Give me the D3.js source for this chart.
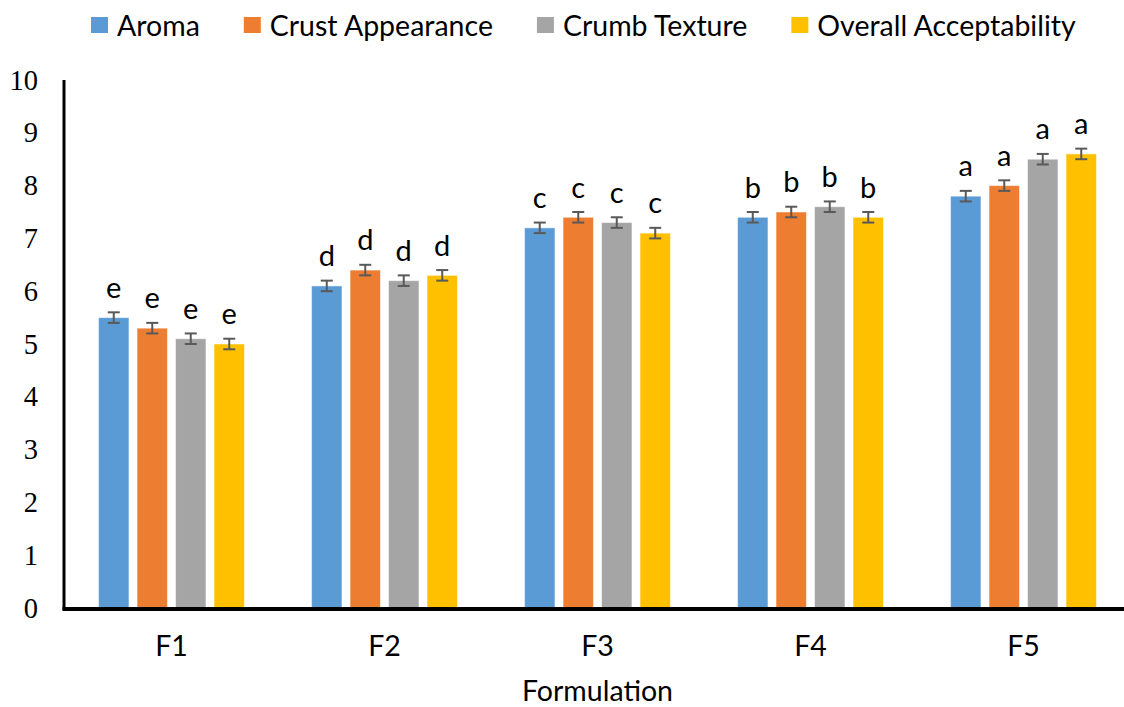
<!DOCTYPE html>
<html>
<head>
<meta charset="utf-8">
<script src="https://cdn.jsdelivr.net/npm/d3@7"></script>
<style>
  html, body { margin: 0; padding: 0; background: #fff; }
  svg { display: block; }
</style>
</head>
<body>
<svg id="chart" width="1124" height="707"></svg>
<script>
// Sensory scores of bread formulations
const formulations = ["F1", "F2", "F3", "F4", "F5"];
const attributes = ["Aroma", "Crust Appearance", "Crumb Texture", "Overall Acceptability"];
const aroma   = [5.5, 6.1, 7.2, 7.4, 7.8];
const crust   = [5.3, 6.4, 7.4, 7.5, 8.0];
const crumb   = [5.1, 6.2, 7.3, 7.6, 8.5];
const overall = [5.0, 6.3, 7.1, 7.4, 8.6];
const errAroma   = [0.1, 0.1, 0.1, 0.1, 0.1];
const errCrust   = [0.1, 0.1, 0.1, 0.1, 0.1];
const errCrumb   = [0.1, 0.1, 0.1, 0.1, 0.1];
const errOverall = [0.1, 0.1, 0.1, 0.1, 0.1];
const letters = ["e", "d", "c", "b", "a"];
const yTicks = [0, 1, 2, 3, 4, 5, 6, 7, 8, 9, 10];
const colors = ["#5B9BD5", "#ED7D31", "#A5A5A5", "#FFC000"];

const seriesValues = [aroma, crust, crumb, overall];
const seriesErrors = [errAroma, errCrust, errCrumb, errOverall];

const rows = [];
formulations.forEach((f, i) => {
  attributes.forEach((a, j) => {
    rows.push({ f, a, j, value: seriesValues[j][i], err: seriesErrors[j][i], letter: letters[i] });
  });
});

const svg = d3.select("#chart");
const plotLeft = 65, plotRight = 1130, plotTop = 80, plotBottom = 608;

const x0 = d3.scaleBand().domain(formulations).range([plotLeft, plotRight])
  .paddingInner(0.315).paddingOuter(0.1575);
const x1 = d3.scaleBand().domain(attributes).range([0, x0.bandwidth()]).paddingInner(0.21);
const y = d3.scaleLinear().domain([0, 10]).range([plotBottom, plotTop]);

const sans = "Lato, 'Open Sans', sans-serif";

// Bars
svg.append("g").selectAll("rect").data(rows).join("rect")
  .attr("x", d => x0(d.f) + x1(d.a))
  .attr("y", d => y(d.value))
  .attr("width", x1.bandwidth())
  .attr("height", d => y(0) - y(d.value))
  .attr("fill", d => colors[d.j])
  .attr("stroke", "#ffffff")
  .attr("stroke-opacity", 0.5)
  .attr("stroke-width", 1);

// Error bars
const eb = svg.append("g").attr("stroke", "#595959").attr("stroke-width", 2);
rows.forEach(d => {
  const cx = x0(d.f) + x1(d.a) + x1.bandwidth() / 2;
  const yt = y(d.value + d.err), yb = y(d.value - d.err);
  eb.append("line").attr("x1", cx).attr("x2", cx).attr("y1", yt).attr("y2", yb);
  eb.append("line").attr("x1", cx - 6).attr("x2", cx + 6).attr("y1", yt).attr("y2", yt);
  eb.append("line").attr("x1", cx - 6).attr("x2", cx + 6).attr("y1", yb).attr("y2", yb);
});

// Significance letters
svg.append("g").selectAll("text").data(rows).join("text")
  .attr("x", d => x0(d.f) + x1(d.a) + x1.bandwidth() / 2)
  .attr("y", d => y(d.value + d.err) - 26)
  .attr("text-anchor", "middle")
  .attr("dominant-baseline", "central")
  .attr("font-family", sans)
  .attr("font-size", 29)
  .attr("fill", "#000")
  .text(d => d.letter);

// Y axis
const yAxis = svg.append("g").attr("transform", `translate(${plotLeft},0)`)
  .call(d3.axisLeft(y).tickValues(yTicks).tickSize(0).tickPadding(27).tickFormat(d3.format("d")));
yAxis.select(".domain").remove();
yAxis.selectAll("text")
  .attr("font-family", "'Liberation Serif', 'Times New Roman', serif")
  .attr("font-size", 28.5)
  .attr("fill", "#000");
svg.append("line").attr("x1", plotLeft - 1).attr("x2", plotLeft - 1).attr("y1", plotTop).attr("y2", plotBottom + 2)
  .attr("stroke", "#000").attr("stroke-width", 3);

// X axis
const xAxis = svg.append("g").attr("transform", `translate(0,${plotBottom})`)
  .call(d3.axisBottom(x0).tickSize(0).tickPadding(28));
xAxis.select(".domain").remove();
xAxis.selectAll("text")
  .attr("font-family", sans)
  .attr("font-size", 28.5)
  .attr("fill", "#000");
svg.append("line").attr("x1", plotLeft - 2.5).attr("x2", 1124).attr("y1", plotBottom + 1).attr("y2", plotBottom + 1)
  .attr("stroke", "#000").attr("stroke-width", 4);

// Axis title
svg.append("text")
  .attr("x", (plotLeft + plotRight) / 2)
  .attr("y", 690)
  .attr("text-anchor", "middle")
  .attr("dominant-baseline", "central")
  .attr("font-family", sans)
  .attr("font-size", 28.5)
  .attr("fill", "#000")
  .text("Formulation");

// Legend
const legend = svg.append("g");
let lx = 91;
attributes.forEach((a, j) => {
  legend.append("rect").attr("x", lx).attr("y", 17).attr("width", 17).attr("height", 16).attr("fill", colors[j]);
  const t = legend.append("text")
    .attr("x", lx + 26).attr("y", 25)
    .attr("dominant-baseline", "central")
    .attr("font-family", sans)
    .attr("font-size", 28.5)
    .attr("fill", "#000")
    .text(a);
  lx += 26 + t.node().getComputedTextLength() + 44;
});
</script>
</body>
</html>
